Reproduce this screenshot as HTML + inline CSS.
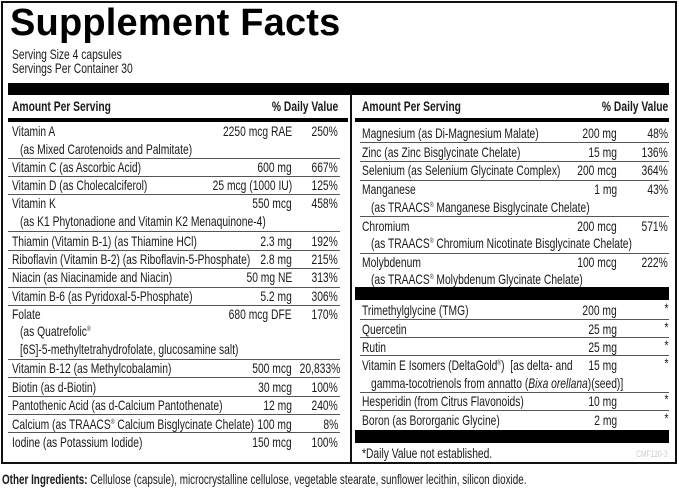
<!DOCTYPE html>
<html><head><meta charset="utf-8"><style>
html,body{margin:0;padding:0;background:#fff;}
#c{position:relative;width:679px;height:490px;overflow:hidden;font-family:"Liberation Sans",sans-serif;color:#1a1a1a;font-size:14px;}
.a{position:absolute;white-space:nowrap;line-height:18px;}
.s{display:inline-block;transform:scaleX(0.735);transform-origin:left center;}
.r{text-align:right;}
.r .s{transform-origin:right center;}
.bar{position:absolute;background:#000;}
.ln{position:absolute;height:1px;background:#555;}
b{font-weight:bold;}
sup{font-size:7px;line-height:0;vertical-align:0;position:relative;top:-5px;}
</style></head><body><div id="c">
<div style="position:absolute;left:1px;top:1px;border:2px solid #111;box-sizing:border-box;width:676px;height:463px;"></div>
<div class="a" style="left:10px;top:2px;font-weight:bold;font-size:38px;line-height:42px;color:#000;letter-spacing:0.2px">Supplement Facts</div>
<div class="a" style="left:12px;top:47px;line-height:14px"><span class="s">Serving Size 4 capsules</span></div>
<div class="a" style="left:12px;top:61px;line-height:14px"><span class="s">Servings Per Container 30</span></div>
<div class="bar" style="left:8px;top:83px;width:661px;height:12px"></div>
<div style="position:absolute;left:350px;top:95px;width:2px;height:368px;background:#111"></div>
<div class="a" style="left:12px;top:97px"><b class="s">Amount Per Serving</b></div>
<div class="a r" style="left:220px;width:118px;top:97px"><b class="s">% Daily Value</b></div>
<div class="a" style="left:362px;top:97px"><b class="s">Amount Per Serving</b></div>
<div class="a r" style="left:540px;width:128px;top:97px"><b class="s">% Daily Value</b></div>
<div class="bar" style="left:8px;top:118px;width:340px;height:4px"></div>
<div class="bar" style="left:355px;top:118px;width:314px;height:4px"></div>

<div class="a" style="left:12px;top:122px"><span class="s">Vitamin A</span></div>
<div class="a" style="left:20px;top:140px"><span class="s">(as Mixed Carotenoids and Palmitate)</span></div>
<div class="a r" style="left:150px;width:142px;top:122px"><span class="s">2250 mcg RAE</span></div>
<div class="a r" style="left:295px;width:43px;top:122px"><span class="s">250%</span></div>
<div class="ln" style="left:8px;width:332px;top:158px"></div>

<div class="a" style="left:12px;top:158px"><span class="s">Vitamin C (as Ascorbic Acid)</span></div>
<div class="a r" style="left:150px;width:142px;top:158px"><span class="s">600 mg</span></div>
<div class="a r" style="left:295px;width:43px;top:158px"><span class="s">667%</span></div>
<div class="ln" style="left:8px;width:332px;top:176px"></div>

<div class="a" style="left:12px;top:176px"><span class="s">Vitamin D (as Cholecalciferol)</span></div>
<div class="a r" style="left:150px;width:142px;top:176px"><span class="s">25 mcg (1000 IU)</span></div>
<div class="a r" style="left:295px;width:43px;top:176px"><span class="s">125%</span></div>
<div class="ln" style="left:8px;width:332px;top:194px"></div>

<div class="a" style="left:12px;top:194px"><span class="s">Vitamin K</span></div>
<div class="a" style="left:20px;top:212px"><span class="s">(as K1 Phytonadione and Vitamin K2 Menaquinone-4)</span></div>
<div class="a r" style="left:150px;width:142px;top:194px"><span class="s">550 mcg</span></div>
<div class="a r" style="left:295px;width:43px;top:194px"><span class="s">458%</span></div>
<div class="ln" style="left:8px;width:332px;top:231px"></div>

<div class="a" style="left:12px;top:232px"><span class="s">Thiamin (Vitamin B-1) (as Thiamine HCl)</span></div>
<div class="a r" style="left:150px;width:142px;top:232px"><span class="s">2.3 mg</span></div>
<div class="a r" style="left:295px;width:43px;top:232px"><span class="s">192%</span></div>
<div class="ln" style="left:8px;width:332px;top:250px"></div>

<div class="a" style="left:12px;top:250px"><span class="s">Riboflavin (Vitamin B-2) (as Riboflavin-5-Phosphate)</span></div>
<div class="a r" style="left:150px;width:142px;top:250px"><span class="s">2.8 mg</span></div>
<div class="a r" style="left:295px;width:43px;top:250px"><span class="s">215%</span></div>
<div class="ln" style="left:8px;width:332px;top:268px"></div>

<div class="a" style="left:12px;top:268px"><span class="s">Niacin (as Niacinamide and Niacin)</span></div>
<div class="a r" style="left:150px;width:142px;top:268px"><span class="s">50 mg NE</span></div>
<div class="a r" style="left:295px;width:43px;top:268px"><span class="s">313%</span></div>
<div class="ln" style="left:8px;width:332px;top:287px"></div>

<div class="a" style="left:12px;top:287px"><span class="s">Vitamin B-6 (as Pyridoxal-5-Phosphate)</span></div>
<div class="a r" style="left:150px;width:142px;top:287px"><span class="s">5.2 mg</span></div>
<div class="a r" style="left:295px;width:43px;top:287px"><span class="s">306%</span></div>
<div class="ln" style="left:8px;width:332px;top:305px"></div>

<div class="a" style="left:12px;top:305px"><span class="s">Folate</span></div>
<div class="a" style="left:20px;top:322px"><span class="s">(as Quatrefolic<sup>®</sup></span></div>
<div class="a" style="left:20px;top:340px"><span class="s">[6S]-5-methyltetrahydrofolate, glucosamine salt)</span></div>
<div class="a r" style="left:150px;width:142px;top:305px"><span class="s">680 mcg DFE</span></div>
<div class="a r" style="left:295px;width:43px;top:305px"><span class="s">170%</span></div>
<div class="ln" style="left:8px;width:332px;top:359px"></div>

<div class="a" style="left:12px;top:359px"><span class="s">Vitamin B-12 (as Methylcobalamin)</span></div>
<div class="a r" style="left:150px;width:142px;top:359px"><span class="s">500 mcg</span></div>
<div class="a r" style="left:285px;width:53px;top:359px"><span class="s">20,833%</span></div>
<div class="ln" style="left:8px;width:332px;top:377px"></div>

<div class="a" style="left:12px;top:378px"><span class="s">Biotin (as d-Biotin)</span></div>
<div class="a r" style="left:150px;width:142px;top:378px"><span class="s">30 mcg</span></div>
<div class="a r" style="left:295px;width:43px;top:378px"><span class="s">100%</span></div>
<div class="ln" style="left:8px;width:332px;top:396px"></div>

<div class="a" style="left:12px;top:396px"><span class="s">Pantothenic Acid (as d-Calcium Pantothenate)</span></div>
<div class="a r" style="left:150px;width:142px;top:396px"><span class="s">12 mg</span></div>
<div class="a r" style="left:295px;width:43px;top:396px"><span class="s">240%</span></div>
<div class="ln" style="left:8px;width:332px;top:414px"></div>

<div class="a" style="left:12px;top:415px"><span class="s">Calcium (as TRAACS<sup>®</sup> Calcium Bisglycinate Chelate)</span></div>
<div class="a r" style="left:150px;width:142px;top:415px"><span class="s">100 mg</span></div>
<div class="a r" style="left:295px;width:43px;top:415px"><span class="s">8%</span></div>
<div class="ln" style="left:8px;width:332px;top:432px"></div>

<div class="a" style="left:12px;top:433px"><span class="s">Iodine (as Potassium Iodide)</span></div>
<div class="a r" style="left:150px;width:142px;top:433px"><span class="s">150 mcg</span></div>
<div class="a r" style="left:295px;width:43px;top:433px"><span class="s">100%</span></div>

<div class="a" style="left:362px;top:124px"><span class="s">Magnesium (as Di-Magnesium Malate)</span></div>
<div class="a r" style="left:520px;width:97px;top:124px"><span class="s">200 mg</span></div>
<div class="a r" style="left:625px;width:43px;top:124px"><span class="s">48%</span></div>
<div class="ln" style="left:360px;width:309px;top:142px"></div>

<div class="a" style="left:362px;top:143px"><span class="s">Zinc (as Zinc Bisglycinate Chelate)</span></div>
<div class="a r" style="left:520px;width:97px;top:143px"><span class="s">15 mg</span></div>
<div class="a r" style="left:625px;width:43px;top:143px"><span class="s">136%</span></div>
<div class="ln" style="left:360px;width:309px;top:161px"></div>

<div class="a" style="left:362px;top:161px"><span class="s">Selenium (as Selenium Glycinate Complex)</span></div>
<div class="a r" style="left:520px;width:97px;top:161px"><span class="s">200 mcg</span></div>
<div class="a r" style="left:625px;width:43px;top:161px"><span class="s">364%</span></div>
<div class="ln" style="left:360px;width:309px;top:180px"></div>

<div class="a" style="left:362px;top:180px"><span class="s">Manganese</span></div>
<div class="a" style="left:371px;top:198px"><span class="s">(as TRAACS<sup>®</sup> Manganese Bisglycinate Chelate)</span></div>
<div class="a r" style="left:520px;width:97px;top:180px"><span class="s">1 mg</span></div>
<div class="a r" style="left:625px;width:43px;top:180px"><span class="s">43%</span></div>
<div class="ln" style="left:360px;width:309px;top:216px"></div>

<div class="a" style="left:362px;top:217px"><span class="s">Chromium</span></div>
<div class="a" style="left:371px;top:234px"><span class="s">(as TRAACS<sup>®</sup> Chromium Nicotinate Bisglycinate Chelate)</span></div>
<div class="a r" style="left:520px;width:97px;top:217px"><span class="s">200 mcg</span></div>
<div class="a r" style="left:625px;width:43px;top:217px"><span class="s">571%</span></div>
<div class="ln" style="left:360px;width:309px;top:253px"></div>

<div class="a" style="left:362px;top:253px"><span class="s">Molybdenum</span></div>
<div class="a" style="left:371px;top:270px"><span class="s">(as TRAACS<sup>®</sup> Molybdenum Glycinate Chelate)</span></div>
<div class="a r" style="left:520px;width:97px;top:253px"><span class="s">100 mcg</span></div>
<div class="a r" style="left:625px;width:43px;top:253px"><span class="s">222%</span></div>

<div class="bar" style="left:355px;top:287px;width:314px;height:13px"></div>

<div class="a" style="left:362px;top:301px"><span class="s">Trimethylglycine (TMG)</span></div>
<div class="a r" style="left:520px;width:97px;top:301px"><span class="s">200 mg</span></div>
<div class="a r" style="left:625px;width:43px;top:299px"><span class="s">*</span></div>
<div class="ln" style="left:360px;width:309px;top:319px"></div>

<div class="a" style="left:362px;top:320px"><span class="s">Quercetin</span></div>
<div class="a r" style="left:520px;width:97px;top:320px"><span class="s">25 mg</span></div>
<div class="a r" style="left:625px;width:43px;top:318px"><span class="s">*</span></div>
<div class="ln" style="left:360px;width:309px;top:337px"></div>

<div class="a" style="left:362px;top:338px"><span class="s">Rutin</span></div>
<div class="a r" style="left:520px;width:97px;top:338px"><span class="s">25 mg</span></div>
<div class="a r" style="left:625px;width:43px;top:336px"><span class="s">*</span></div>
<div class="ln" style="left:360px;width:309px;top:355px"></div>

<div class="a" style="left:362px;top:356px"><span class="s">Vitamin E Isomers (DeltaGold<sup>®</sup>) &nbsp;[as delta- and</span></div>
<div class="a" style="left:371px;top:374px"><span class="s">gamma-tocotrienols from annatto (<i>Bixa orellana</i>)(seed)]</span></div>
<div class="a r" style="left:520px;width:97px;top:356px"><span class="s">15 mg</span></div>
<div class="a r" style="left:625px;width:43px;top:354px"><span class="s">*</span></div>
<div class="ln" style="left:360px;width:309px;top:392px"></div>

<div class="a" style="left:362px;top:392px"><span class="s">Hesperidin (from Citrus Flavonoids)</span></div>
<div class="a r" style="left:520px;width:97px;top:392px"><span class="s">10 mg</span></div>
<div class="a r" style="left:625px;width:43px;top:390px"><span class="s">*</span></div>
<div class="ln" style="left:360px;width:309px;top:410px"></div>

<div class="a" style="left:362px;top:411px"><span class="s">Boron (as Bororganic Glycine)</span></div>
<div class="a r" style="left:520px;width:97px;top:411px"><span class="s">2 mg</span></div>
<div class="a r" style="left:625px;width:43px;top:409px"><span class="s">*</span></div>

<div class="bar" style="left:355px;top:430px;width:314px;height:13px"></div>
<div class="a" style="left:362px;top:444px"><span class="s">*Daily Value not established.</span></div>
<div class="a r" style="left:600px;width:68px;top:445px;font-size:9px;color:#ccc"><span class="s">CMF120-3</span></div>

<div class="a" style="left:2px;top:470px"><span class="s" style="transform:scaleX(0.705)"><b>Other Ingredients:</b> Cellulose (capsule), microcrystalline cellulose, vegetable stearate, sunflower lecithin, silicon dioxide.</span></div>
</div></body></html>
